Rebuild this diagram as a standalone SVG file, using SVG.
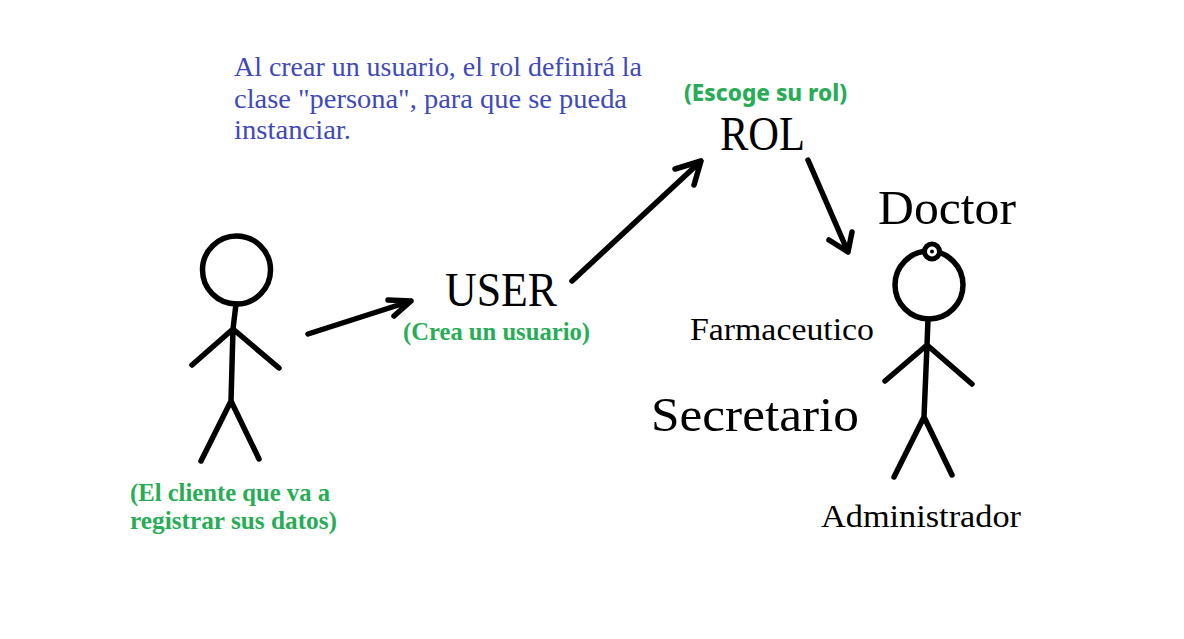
<svg xmlns="http://www.w3.org/2000/svg" width="1184" height="639" viewBox="0 0 1184 639">
<style>
.s{fill:none;stroke:#000;stroke-width:5.500;stroke-linecap:round;stroke-linejoin:round}
text{font-family:"Liberation Serif","DejaVu Serif",serif}
.b{font-size:28px;fill:#4049bb}
.g{font-size:25px;font-weight:700;fill:#28ad56}
.e{font-family:"Noto Sans","Open Sans",sans-serif;font-size:23px;font-weight:800}
.k{fill:#000}
</style>
<rect width="1184" height="639" fill="#fff"/>
<g id="note"><text class="b" x="234" y="76" textLength="408" lengthAdjust="spacingAndGlyphs">Al crear un usuario, el rol definirá la</text><text class="b" x="234" y="108" textLength="393" lengthAdjust="spacingAndGlyphs">clase "persona", para que se pueda</text><text class="b" x="234" y="139" textLength="117" lengthAdjust="spacingAndGlyphs">instanciar.</text></g>
<g id="client"><circle class="s" cx="236.500" cy="270" r="34"/><path class="s" d="M236 304L233 329L231 401L201 461M231 401L259 459M233 329L192 365M233 329L279 368"/><text class="g" x="130" y="501" textLength="200" lengthAdjust="spacingAndGlyphs">(El cliente que va a</text><text class="g" x="130" y="529" textLength="207" lengthAdjust="spacingAndGlyphs">registrar sus datos)</text></g>
<g id="user"><text class="k" x="445" y="306" font-size="49" textLength="112" lengthAdjust="spacingAndGlyphs">USER</text><text class="g" x="403" y="340" textLength="187" lengthAdjust="spacingAndGlyphs">(Crea un usuario)</text></g>
<g id="rol"><text class="g e" x="684" y="101" textLength="163" lengthAdjust="spacingAndGlyphs">(Escoge su rol)</text><text class="k" x="720" y="150" font-size="49" textLength="85" lengthAdjust="spacingAndGlyphs">ROL</text></g>
<g id="doctor"><circle class="s" cx="929" cy="285" r="34"/><circle cx="932" cy="251.500" r="10"/><circle cx="932" cy="251.500" r="5" fill="#fff"/><circle cx="932" cy="251.500" r="2"/><path class="s" d="M928 319L927 345L924 417L894 477M924 417L952 475M927 345L885 381M927 345L972 384"/><text class="k" x="878" y="224" font-size="49" textLength="138" lengthAdjust="spacingAndGlyphs">Doctor</text><text class="k" x="690" y="340" font-size="31" textLength="184" lengthAdjust="spacingAndGlyphs">Farmaceutico</text><text class="k" x="651" y="431" font-size="49" textLength="208" lengthAdjust="spacingAndGlyphs">Secretario</text><text class="k" x="821" y="527" font-size="31" textLength="200" lengthAdjust="spacingAndGlyphs">Administrador</text></g>
<g id="connectors"><path class="s" d="M308 334L411 301M388 300L411 301L394 316M572 281L701 161M675 169L701 161L694 185M808 160L848 252M829 240L848 252L852 232"/></g>
</svg>
